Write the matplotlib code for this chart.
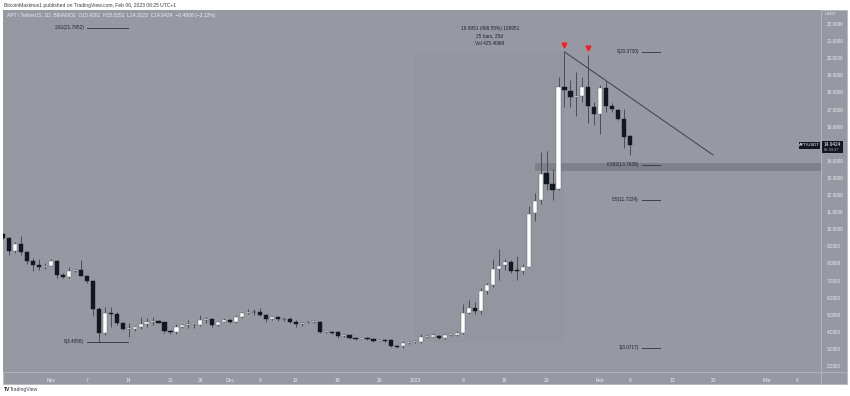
import numpy as np
import pandas as pd
import matplotlib
matplotlib.use('Agg')
import matplotlib.pyplot as plt
from matplotlib.patches import Rectangle

plt.rcParams['font.family'] = ['Liberation Sans', 'DejaVu Sans']

# APT / USDT daily candles, first candle 2022-10-24
opens = [9.72, 9.47, 8.74, 9.13, 8.65, 8.14, 7.91, 7.77, 7.87, 8.14,
         7.32, 7.18, 7.57, 7.60, 7.28, 6.95, 5.33, 3.91, 5.08, 5.04,
         4.50, 4.15, 4.17, 4.30, 4.44, 4.60, 4.63, 4.55, 4.05, 4.00,
         4.26, 4.42, 4.44, 4.38, 4.69, 4.73, 4.40, 4.59, 4.69, 4.58,
         4.84, 5.08, 5.14, 5.13, 5.00, 4.75, 4.84, 4.73, 4.73, 4.59,
         4.46, 4.55, 4.57, 4.59, 3.97, 4.00, 3.97, 3.75, 3.80, 3.66,
         3.60, 3.64, 3.58, 3.48, 3.52, 3.52, 3.17, 3.15, 3.36, 3.42,
         3.42, 3.70, 3.72, 3.78, 3.66, 3.80, 3.82, 3.95, 5.12, 5.41,
         5.23, 6.40, 6.74, 7.65, 7.89, 8.06, 7.56, 7.55, 7.80, 10.93,
         11.70, 13.27, 12.64, 12.33, 18.33, 18.10, 17.75, 17.80, 18.33, 17.16,
         16.72, 18.24, 17.22, 16.97, 16.44, 15.4261]
highs = [9.80, 9.56, 9.27, 9.60, 8.70, 8.30, 8.26, 8.00, 8.26, 8.20,
         7.42, 7.80, 7.70, 8.20, 7.34, 7.05, 5.45, 5.45, 5.43, 5.18,
         4.60, 4.50, 4.32, 4.88, 4.79, 4.88, 4.68, 4.60, 4.10, 4.45,
         4.45, 4.68, 4.52, 4.98, 4.88, 4.79, 4.62, 4.79, 4.73, 4.98,
         5.18, 5.32, 5.32, 5.38, 5.05, 4.90, 4.88, 4.79, 4.84, 4.68,
         4.59, 4.65, 4.68, 4.63, 4.03, 4.03, 4.05, 3.86, 3.88, 3.72,
         3.68, 3.68, 3.62, 3.56, 3.56, 3.55, 3.23, 3.46, 3.48, 3.52,
         3.86, 3.80, 3.93, 3.84, 3.88, 3.90, 4.05, 5.63, 5.86, 5.74,
         6.54, 6.83, 8.27, 8.82, 8.27, 8.18, 8.45, 7.95, 11.36, 12.13,
         14.53, 14.57, 13.50, 18.92, 20.373, 18.73, 19.21, 18.92, 20.20, 17.42,
         18.43, 18.67, 17.36, 17.03, 17.03, 15.5351]
lows = [9.40, 8.49, 8.59, 8.49, 7.95, 7.57, 7.60, 7.70, 7.83, 7.13,
        7.13, 7.13, 7.50, 7.24, 6.86, 4.90, 3.4056, 3.83, 4.30, 4.40,
        4.10, 3.71, 4.05, 4.15, 4.30, 4.40, 4.50, 3.95, 3.86, 3.85,
        4.22, 4.20, 4.20, 4.32, 4.50, 4.26, 4.33, 4.55, 4.53, 4.52,
        4.80, 5.05, 5.00, 4.95, 4.55, 4.70, 4.66, 4.66, 4.49, 4.30,
        4.35, 4.49, 4.53, 3.92, 3.92, 3.88, 3.66, 3.72, 3.58, 3.52,
        3.56, 3.54, 3.43, 3.45, 3.43, 3.12, 3.05, 3.08, 3.30, 3.36,
        3.37, 3.62, 3.67, 3.60, 3.60, 3.78, 3.78, 3.90, 5.02, 5.02,
        5.06, 6.20, 6.60, 7.03, 7.60, 7.44, 7.03, 7.40, 7.77, 10.50,
        11.50, 12.30, 11.70, 12.30, 17.16, 17.16, 16.64, 17.46, 16.19, 16.09,
        15.55, 16.85, 16.87, 16.38, 14.75, 14.3123]
closes = [9.49, 8.74, 9.13, 8.65, 8.14, 7.91, 7.77, 7.87, 8.14, 7.32,
          7.18, 7.57, 7.62, 7.28, 6.95, 5.33, 3.91, 5.08, 5.02, 4.50,
          4.15, 4.17, 4.26, 4.44, 4.59, 4.63, 4.54, 4.05, 4.00, 4.26,
          4.38, 4.44, 4.45, 4.69, 4.71, 4.40, 4.59, 4.69, 4.58, 4.84,
          5.08, 5.14, 5.13, 5.00, 4.75, 4.84, 4.73, 4.72, 4.59, 4.44,
          4.53, 4.57, 4.62, 3.97, 4.00, 3.94, 3.75, 3.82, 3.66, 3.58,
          3.62, 3.58, 3.47, 3.50, 3.47, 3.17, 3.13, 3.36, 3.42, 3.44,
          3.68, 3.72, 3.80, 3.66, 3.80, 3.82, 3.95, 5.12, 5.39, 5.23,
          6.39, 6.74, 7.65, 7.85, 8.06, 7.56, 7.54, 7.80, 10.89, 11.67,
          13.23, 12.64, 12.29, 18.33, 18.14, 17.75, 17.80, 18.33, 17.22, 16.72,
          18.24, 17.22, 17.01, 16.44, 15.41, 14.9424]

start = pd.Timestamp('2022-10-24')
tick_dates = ['2022-11-01', '2022-11-07', '2022-11-14', '2022-11-21', '2022-11-26',
              '2022-12-01', '2022-12-06', '2022-12-12', '2022-12-19', '2022-12-26',
              '2023-01-01', '2023-01-09', '2023-01-16', '2023-01-23', '2023-02-01',
              '2023-02-06', '2023-02-13', '2023-02-20', '2023-03-01', '2023-03-06']
tick_labels = ['Nov', '7', '14', '21', '26', 'Dec', '6', '12', '19', '26',
               '2023', '9', '16', '23', 'Feb', '6', '13', '20', 'Mar', '6']
price_ticks = [2, 3, 4, 5, 6, 7, 8, 9, 10, 11, 12, 13, 14, 16, 17, 18, 19, 20, 21, 22]

# fib tools and drawings
fib_a_levels = ['2.61', '0']
fib_a_prices = [21.7952, 3.4056]
fib_b_levels = ['0', '0.382', '0.5', '1']
fib_b_prices = [20.3730, 13.7639, 11.7224, 3.0717]
trend_dates = ['2023-01-26', '2023-02-19 21:30']
trend_prices = [20.373, 14.34]
peak_dates = ['2023-01-26', '2023-01-30']
range_dates = ['2023-01-01', '2023-01-26']
range_prices = [3.3779, 20.373]
zone_prices = [13.42, 13.95]

def day(d):
    return (pd.Timestamp(d) - start) / pd.Timedelta(days=1)

x = np.arange(len(opens))
o = np.array(opens); h = np.array(highs); l = np.array(lows); c = np.array(closes)
up = c >= o

bg = '#9699a2'
dark = '#131722'
txt = '#1e222d'
axc = '#eceef2'

fig = plt.figure(figsize=(8.5, 3.96), dpi=100)
fig.patch.set_facecolor('white')
W, H = 850.0, 396.0
fig.patches.append(Rectangle((3/W, 1-384/H), 844/W, 374/H, transform=fig.transFigure,
                             facecolor=bg, edgecolor='#b4b7bf', lw=0.6, zorder=-5))
ax = fig.add_axes([3/W, 1-372/H, 818/W, 362/H])
ax.set_zorder(1)
ax.set_facecolor(bg)
ax.set_xlim(-0.05, 136.97)
ax.set_ylim(1.649, 22.82)
for s in ax.spines.values():
    s.set_visible(False)

# measure box and zone
r0, r1 = day(range_dates[0]), day(range_dates[1])
ax.add_patch(Rectangle((r0, range_prices[0]), r1-r0, range_prices[1]-range_prices[0],
                       facecolor='black', alpha=0.018, lw=0, zorder=1))
ax.add_patch(Rectangle((88.9, zone_prices[0]), 48, zone_prices[1]-zone_prices[0],
                       facecolor='#7e818a', edgecolor='#a3a6ae', lw=0.4, zorder=1))
ax.text((r0+r1)/2, 21.71, '16.9951 (499.55%) 169951', ha='center', va='center', fontsize=3.4, color=txt)
ax.text((r0+r1)/2, 21.30, '25 bars, 25d', ha='center', va='center', fontsize=3.4, color=txt)
ax.text((r0+r1)/2, 20.87, 'Vol 425.406M', ha='center', va='center', fontsize=3.4, color=txt)

# candles
ax.vlines(x, l, h, color='#4a4d56', lw=0.7, zorder=2)
bot = np.minimum(o, c)
hgt = np.maximum(np.abs(c - o), 0.05)
ax.bar(x[up], hgt[up], bottom=bot[up], width=0.7, color='white', edgecolor='#5d606b', lw=0.3, zorder=3)
ax.bar(x[~up], hgt[~up], bottom=bot[~up], width=0.7, color=dark, edgecolor=dark, lw=0.3, zorder=3)

# fib levels
for lv, p in zip(fib_a_levels, fib_a_prices):
    ax.plot([14, 20.9], [p, p], color='#3d4049', lw=0.7, zorder=2)
    ax.text(13.6, p, '%s(%.4f)' % (lv, p), ha='right', va='center', fontsize=3.4, color=txt)
for lv, p in zip(fib_b_levels, fib_b_prices):
    ax.plot([107, 110], [p, p], color='#3d4049', lw=0.7, zorder=2)
    ax.text(106.5, p, '%s(%.4f)' % (lv, p), ha='right', va='center', fontsize=3.4, color=txt)

# trendline and peak markers
ax.plot([day(d) for d in trend_dates], trend_prices, color='#3d4049', lw=0.7, zorder=2)
pk = [int(day(d)) for d in peak_dates]
ax.plot(pk, h[pk] + 0.4, 'v', color='#ff1a1a', ms=3.4, mec='#ff1a1a', zorder=4)

# axes
ax.set_xticks([day(d) for d in tick_dates])
ax.set_xticklabels(tick_labels)
ax.yaxis.tick_right()
ax.set_yticks(price_ticks)
ax.set_yticklabels(['%.4f' % p for p in price_ticks])
ax.tick_params(axis='x', length=0, pad=4, labelsize=3.6, labelcolor=axc)
ax.tick_params(axis='y', length=0, pad=4, labelsize=3.4, labelcolor=axc)
for lab in ax.get_yticklabels():
    lab.set_horizontalalignment('left')

fig.add_artist(plt.Line2D([3/W, 847/W], [1-372/H, 1-372/H], color='#b4b7bf', lw=0.6))
fig.add_artist(plt.Line2D([821/W, 821/W], [1-10/H, 1-384/H], color='#b4b7bf', lw=0.6))

# price labels on the axis
fig.patches.append(Rectangle((822/W, 1-153/H), 21/W, 11.5/H, transform=fig.transFigure,
                             facecolor=dark, lw=0, zorder=5))
fig.patches.append(Rectangle((799/W, 1-148.5/H), 21/W, 7/H, transform=fig.transFigure,
                             facecolor=dark, lw=0, zorder=5))
fig.text(823.5/W, 1-145/H, '14.9424', fontsize=3.4, color='white', va='center', zorder=6)
fig.text(823.5/W, 1-150.5/H, '06:34:37', fontsize=2.8, color='#b2b5be', va='center', zorder=6)
fig.text(809.5/W, 1-145/H, 'APT/USDT', fontsize=3.0, color='white', va='center', ha='center', zorder=6)
fig.text(825/W, 1-14/H, 'USDT', fontsize=3.2, color=axc, va='center')

# header / footer
fig.text(4/W, 1-5/H, 'BitcoinMaximus1 published on TradingView.com, Feb 06, 2023 08:25 UTC+1',
         fontsize=3.6, color='#3a3d45', va='center')
fig.text(7/W, 1-15.5/H, 'APT / TetherUS, 1D, BINANCE  O15.4261  H15.5351  L14.3123  C14.9424  \u22120.4806 (\u22123.12%)',
         fontsize=3.6, color=axc, va='center', zorder=6)
fig.text(4/W, 1-389.5/H, 'TV', fontsize=3.6, fontweight='bold', color=dark, va='center')
fig.text(10/W, 1-389.5/H, 'TradingView', fontsize=3.6, color='#3a3d45', va='center')

fig.savefig('out.png', dpi=100)
